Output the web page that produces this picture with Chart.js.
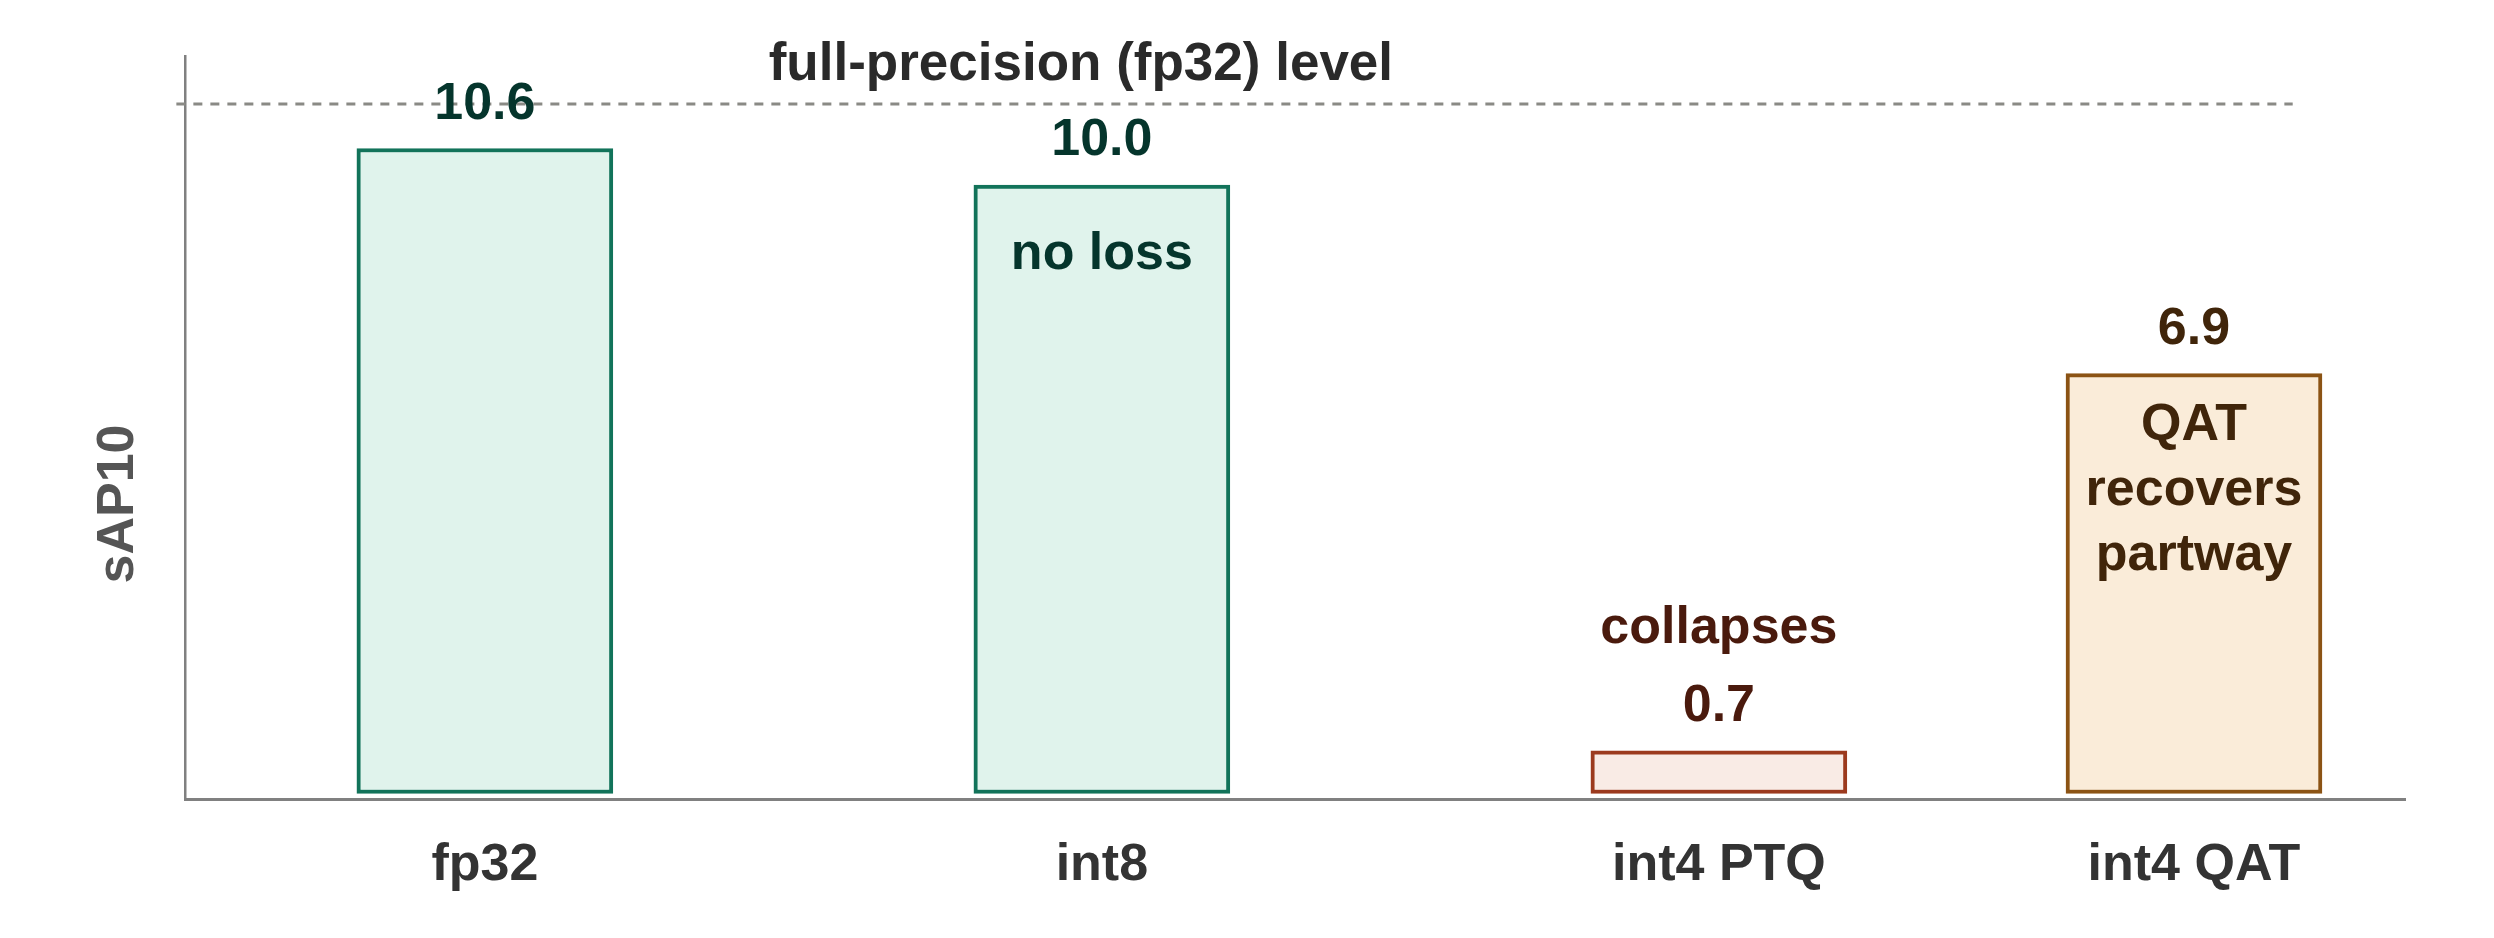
<!DOCTYPE html>
<html>
<head>
<meta charset="utf-8">
<title>sAP10 by precision</title>
<script src="https://cdn.jsdelivr.net/npm/chart.js@4.4.1/dist/chart.umd.min.js"></script>
<style>
  html, body { margin: 0; padding: 0; background: #ffffff; }
  canvas { display: block; }
</style>
</head>
<body>
<canvas id="sapChart" width="2494" height="938"></canvas>
<script>
// data
const categories = ["fp32", "int8", "int4 PTQ", "int4 QAT"];
const xPositions = [0, 1, 2, 2.77];
const sapValues = [10.6, 10.0, 0.7, 6.9];
const valueLabels = ["10.6", "10.0", "0.7", "6.9"];
const barNotes = [[], ["no loss"], ["collapses"], ["QAT", "recovers", "partway"]];
const fp32LineY = 11.33;
const fp32LineSpan = [-0.5, 2.93];
const fp32LineLabel = "full-precision (fp32) level";
const yAxisTitle = "sAP10";

const fillColors = ["#e0f3ec", "#e0f3ec", "#f9ebe5", "#faecd9"];
const borderColors = ["#12735a", "#12735a", "#9c3a1e", "#8b5314"];
const textColors = ["#05352c", "#05352c", "#4a1a0d", "#40250a"];

const FONT = "'Liberation Sans', Arial, Helvetica, sans-serif";

const annotations = {
  id: "annotations",
  afterDatasetsDraw(chart) {
    const ctx = chart.ctx;
    const meta = chart.getDatasetMeta(1);
    const xs = chart.scales.x;
    const ys = chart.scales.y;
    ctx.save();
    ctx.font = "bold 52px " + FONT;
    ctx.textAlign = "center";
    ctx.textBaseline = "middle";

    meta.data.forEach(function (bar, i) {
      const top = bar.y;
      ctx.fillStyle = textColors[i];
      ctx.fillText(valueLabels[i], bar.x, top - 44);

      const note = barNotes[i];
      if (!note.length) return;
      if (i === 2) {
        // note sits above the value label for the tiny bar
        ctx.fillText(note[0], bar.x, top - 122);
      } else {
        note.forEach(function (line, k) {
          ctx.fillText(line, bar.x, top + (i === 1 ? 70 : 52) + k * 65);
        });
      }
    });

    // reference line label
    ctx.font = "bold 53px " + FONT;
    ctx.fillStyle = "#2a2a2a";
    ctx.fillText(fp32LineLabel, xs.getPixelForValue(0.966), ys.getPixelForValue(fp32LineY) - 39);

    // y axis title
    ctx.font = "bold 52px " + FONT;
    ctx.fillStyle = "#555555";
    ctx.translate(chart.chartArea.left - 66, chart.chartArea.bottom - 295);
    ctx.rotate(-Math.PI / 2);
    ctx.fillText(yAxisTitle, 0, 0);
    ctx.restore();
  },
};

const ctx = document.getElementById("sapChart").getContext("2d");

new Chart(ctx, {
  data: {
    datasets: [
      {
        type: "line",
        label: fp32LineLabel,
        data: fp32LineSpan.map((x) => ({ x: x, y: fp32LineY })),
        borderColor: "#8a8a85",
        borderWidth: 3,
        borderDash: [9, 8],
        pointRadius: 0,
        fill: false,
        clip: false,
      },
      {
        type: "bar",
        label: yAxisTitle,
        data: xPositions.map((x, i) => ({ x: x, y: sapValues[i] })),
        backgroundColor: fillColors,
        borderColor: borderColors,
        borderWidth: 4,
        borderSkipped: false,
        barThickness: 256,
      },
    ],
  },
  options: {
    responsive: false,
    animation: false,
    layout: {
      padding: { top: 56, right: 89, bottom: 0, left: 0 },
    },
    plugins: {
      legend: { display: false },
      tooltip: { enabled: false },
    },
    scales: {
      x: {
        type: "linear",
        min: -0.486,
        max: 3.112,
        offset: false,
        afterBuildTicks: function (scale) {
          scale.ticks = xPositions.map((v) => ({ value: v }));
        },
        afterFit: function (scale) {
          scale.height = 139;
        },
        grid: { display: false, drawTicks: false, offset: false },
        border: { display: true, color: "#808080", width: 3 },
        ticks: {
          autoSkip: false,
          maxRotation: 0,
          padding: 35,
          color: "#333333",
          font: { family: FONT, size: 52, weight: "bold" },
          callback: function (value) {
            const i = xPositions.indexOf(value);
            return i >= 0 ? categories[i] : "";
          },
        },
      },
      y: {
        min: -0.09,
        max: 12.12,
        afterFit: function (scale) {
          scale.width = 185;
        },
        grid: { display: false, drawTicks: false },
        border: { display: true, color: "#808080", width: 2.5 },
        ticks: { display: false },
      },
    },
  },
  plugins: [annotations],
});
</script>
</body>
</html>
